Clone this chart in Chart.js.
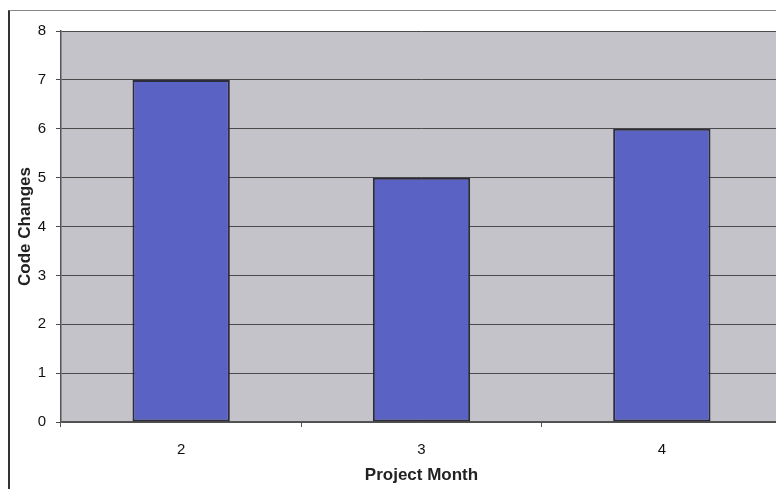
<!DOCTYPE html>
<html>
<head>
<meta charset="utf-8">
<script src="https://cdn.jsdelivr.net/npm/chart.js@4/dist/chart.umd.min.js"></script>
<style>
  html, body { margin:0; padding:0; background:#fff; }
  #wrap { position:relative; width:776px; height:489px; overflow:hidden; background:#fff; }
  #frame { position:absolute; left:8px; top:10px; width:800px; height:500px; border-left:2px solid #333; border-top:1px solid #888; }
  #c { position:absolute; left:0; top:0; }
</style>
</head>
<body>
<div id="wrap">
  <div id="frame"></div>
  <canvas id="c" width="790" height="489"></canvas>
</div>
<script>
const months = ['2', '3', '4'];
const codeChanges = [7, 5, 6];
const yTicks = [0, 1, 2, 3, 4, 5, 6, 7, 8];

// grey plot background
const plotBg = {
  id: 'plotBg',
  beforeDraw(chart){
    const a = chart.chartArea, ctx = chart.ctx;
    ctx.save(); ctx.fillStyle = '#c4c3ca'; ctx.fillRect(a.left, a.top, a.right - a.left, a.bottom - a.top); ctx.restore();
  }
};

const ctx = document.getElementById('c').getContext('2d');
new Chart(ctx, {
  type: 'bar',
  data: { labels: months, datasets: [{ data: codeChanges, backgroundColor: '#5a62c4', borderColor: '#2c2c3c', borderWidth: 2, borderSkipped: false, barPercentage: 0.81, categoryPercentage: 0.5 }] },
  options: {
    responsive: false, animation: false,
    layout: { padding: { top: 31, right: 8, bottom: 3, left: 15 } },
    plugins: { legend: { display: false }, tooltip: { enabled: false } },
    scales: {
      x: {
        grid: { offset: true, drawOnChartArea: false, tickLength: 5, color: '#555' },
        border: { color: '#555', width: 1.5 },
        ticks: { color: '#111', font: { family: 'Liberation Sans', size: 15 }, padding: 14 },
        title: { display: true, text: 'Project Month', color: '#222', font: { family: 'Liberation Sans', size: 17, weight: 'bold' }, padding: { top: 2, bottom: 0 } },
        afterFit(s){ s.height = 64; }
      },
      y: {
        min: 0, max: 8,
        afterBuildTicks(s){ s.ticks = yTicks.map(v => ({ value: v })); },
        grid: { color: '#4a4a4a', tickLength: 5, lineWidth: 1 },
        border: { color: '#555', width: 1.5 },
        ticks: { color: '#111', font: { family: 'Liberation Sans', size: 15 }, padding: 10 },
        title: { display: true, text: 'Code Changes', color: '#222', font: { family: 'Liberation Sans', size: 17, weight: 'bold' }, padding: 0 },
        afterFit(s){ s.width = 46; }
      }
    }
  },
  plugins: [plotBg]
});
</script>
</body>
</html>
